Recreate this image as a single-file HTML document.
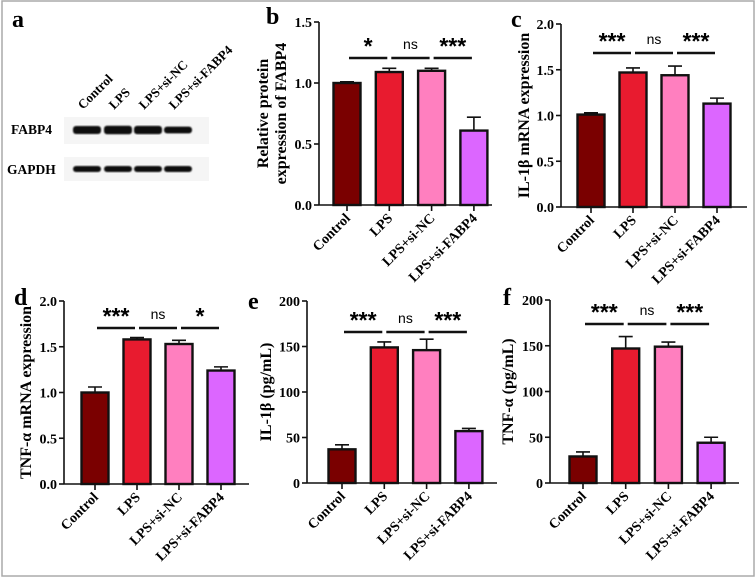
<!DOCTYPE html>
<html><head><meta charset="utf-8"><style>
body{margin:0;background:#fff}
svg{display:block;font-family:"Liberation Serif",serif}
</style></head><body>
<svg id="fig" width="756" height="578" viewBox="0 0 756 578">
<defs><filter id="blur"><feGaussianBlur stdDeviation="0.8"/></filter></defs>
<rect x="2" y="1" width="752" height="575" fill="#fff" stroke="#aaa" stroke-width="1.5"/>
<g>
<text x="12" y="27" font-size="24" font-weight="bold">a</text>
<rect x="64" y="117" width="145" height="27" fill="#f5f5f5"/>
<rect x="64" y="157" width="145" height="24" fill="#f5f5f5"/>
<text x="11" y="134" font-size="13.5" font-weight="bold">FABP4</text>
<text x="7" y="174" font-size="13.5" font-weight="bold">GAPDH</text>
<g id="bands"></g>
</g>
<g id="charts"></g>
</svg>
<script>
var ns="http://www.w3.org/2000/svg";
var categories=["Control","LPS","LPS+si-NC","LPS+si-FABP4"];
var colors=["#7a0000","#e81b2f","#ff7fbf","#dc66ff"];
var bValues=[1.0,1.09,1.10,0.61], bErr=[0.01,0.03,0.02,0.11];
var cValues=[1.01,1.47,1.44,1.13], cErr=[0.02,0.05,0.10,0.06];
var dValues=[1.0,1.58,1.53,1.24], dErr=[0.06,0.02,0.04,0.04];
var eValues=[37,149,146,57], eErr=[5,6,12,3];
var fValues=[29,147,149,44], fErr=[5,13,5,6];
var ticksMRNA=[0,0.5,1.0,1.5,2.0], ticksB=[0,0.5,1.0,1.5], ticksPG=[0,50,100,150,200];
var tickLabelsMRNA=["0.0","0.5","1.0","1.5","2.0"], tickLabelsB=["0.0","0.5","1.0","1.5"], tickLabelsPG=["0","50","100","150","200"];
var sigB=["*","ns","***"], sigC=["***","ns","***"], sigD=["***","ns","*"], sigE=["***","ns","***"], sigF=["***","ns","***"];
var fabp4Intensity=[1,1.15,1.1,0.6];

function el(tag,attrs,parent,text){var e=document.createElementNS(ns,tag);for(var k in attrs)e.setAttribute(k,attrs[k]);if(text!=null)e.textContent=text;parent.appendChild(e);return e;}

var bands=document.getElementById('bands');
var laneX=[87,118,148,178];
categories.forEach(function(c,i){
  var t=el('text',{x:laneX[i]-4,y:110,'font-size':13,'font-weight':'bold',transform:'rotate(-45 '+(laneX[i]-4)+' 110)'},bands,c);
  
  
  var h=5+3*fabp4Intensity[i];
  var b1=el('rect',{x:laneX[i]-14,y:130-h/2,width:28,height:h,rx:3,fill:'#111',filter:'url(#blur)'},bands);
  
  
  var b2=el('rect',{x:laneX[i]-14,y:166,width:28,height:6,rx:3,fill:'#111',filter:'url(#blur)'},bands);
  
  
});

var charts=document.getElementById('charts');
function chart(o){
  var g=el('g',{},charts);
  
  
  var max=o.ticks[o.ticks.length-1];
  function y(v){return o.y0-(v/max)*(o.y0-o.yTop);}
  var lab=el('text',{x:o.lx,y:o.ly,'font-size':24,'font-weight':'bold'},g,o.id);
  
  
  var ax=el('line',{x1:o.ax,y1:o.yTop,x2:o.ax,y2:o.y0,stroke:'#111','stroke-width':1.6},g);
  
  
  var xa=el('line',{x1:o.ax,y1:o.y0,x2:o.xEnd,y2:o.y0,stroke:'#111','stroke-width':1.6},g);
  
  
  o.ticks.forEach(function(t,i){
    el('line',{x1:o.ax-5,y1:y(t),x2:o.ax,y2:y(t),stroke:'#111','stroke-width':1.6},g);
    var tl=el('text',{x:o.ax-7,y:y(t)+5,'font-size':14,'font-weight':'bold','text-anchor':'end'},g,o.tickLabels[i]);
    
    
  });
  o.ylabel.forEach(function(s,i){
    var xx=o.ylx+i*18;
    var yt=el('text',{x:xx,y:(o.yTop+o.y0)/2,'font-size':16,'font-weight':'bold','text-anchor':'middle',transform:'rotate(-90 '+xx+' '+(o.yTop+o.y0)/2+')'},g,s);
    
    
  });
  var step=o.step,bw=27;
  categories.forEach(function(c,i){
    var cx=o.x0+i*step;
    el('line',{x1:cx,y1:o.y0,x2:cx,y2:o.y0+6,stroke:'#111','stroke-width':1.6},g);
    var v=o.values[i],e=o.err[i];
    var eb=el('path',{d:'M'+cx+' '+y(v)+'V'+y(v+e)+'M'+(cx-7)+' '+y(v+e)+'H'+(cx+7),stroke:'#111','stroke-width':1.6,fill:'none'},g);
    
    
    var r=el('rect',{x:cx-bw/2,y:y(v),width:bw,height:o.y0-y(v),fill:colors[i],stroke:'#111','stroke-width':2.4},g);
    
    
    var tx=cx+4,ty=o.y0+14;
    var xl=el('text',{x:tx,y:ty,'font-size':14,'font-weight':'bold','text-anchor':'end',transform:'rotate(-45 '+tx+' '+ty+')'},g,c);
    
    
  });
  o.sig.forEach(function(s,i){
    var x1=o.x0+i*step+2,x2=o.x0+(i+1)*step-2;
    var sl=el('line',{x1:x1,y1:o.sigY,x2:x2,y2:o.sigY,stroke:'#111','stroke-width':2.5},g);
    
    
    var st=el('text',{x:(x1+x2)/2,y:s==='ns'?o.sigY-9:o.sigY-4,'font-size':s==='ns'?14:23,'font-family':'Liberation Sans, sans-serif','font-weight':s==='ns'?'normal':'bold','text-anchor':'middle'},g,s);
    
    
  });
}
chart({id:'b',lx:266,ly:24,ax:319,yTop:22,y0:205,xEnd:492,x0:347,step:42.3,values:bValues,err:bErr,ticks:ticksB,tickLabels:tickLabelsB,sig:sigB,sigY:58,ylabel:['Relative protein','expression of FABP4'],ylx:268});
chart({id:'c',lx:511,ly:27,ax:561,yTop:24,y0:207,xEnd:747,x0:591,step:42,values:cValues,err:cErr,ticks:ticksMRNA,tickLabels:tickLabelsMRNA,sig:sigC,sigY:53,ylabel:['IL-1β mRNA expression'],ylx:529});
chart({id:'d',lx:14,ly:305,ax:64,yTop:301,y0:484,xEnd:249,x0:95,step:42,values:dValues,err:dErr,ticks:ticksMRNA,tickLabels:tickLabelsMRNA,sig:sigD,sigY:328,ylabel:['TNF-α mRNA expression'],ylx:31});
chart({id:'e',lx:248,ly:309,ax:307,yTop:301,y0:483,xEnd:497,x0:342,step:42.3,values:eValues,err:eErr,ticks:ticksPG,tickLabels:tickLabelsPG,sig:sigE,sigY:332,ylabel:['IL-1β (pg/mL)'],ylx:271});
chart({id:'f',lx:503,ly:305,ax:550,yTop:300,y0:483,xEnd:739,x0:583,step:42.7,values:fValues,err:fErr,ticks:ticksPG,tickLabels:tickLabelsPG,sig:sigF,sigY:324,ylabel:['TNF-α (pg/mL)'],ylx:513});
</script>
</body></html>
